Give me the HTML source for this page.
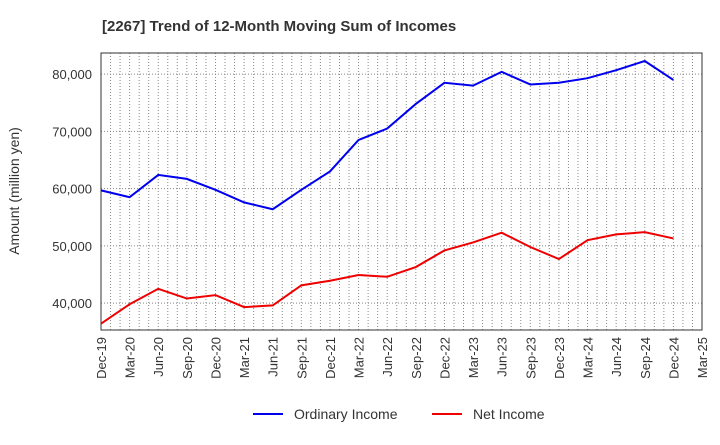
<!DOCTYPE html>
<html><head><meta charset="utf-8"><style>
body{margin:0;background:#fff;width:720px;height:440px;overflow:hidden;font-family:"Liberation Sans",sans-serif}
</style></head><body>
<svg id="c" width="720" height="440" xmlns="http://www.w3.org/2000/svg"></svg>
<script>
const categories=["Dec-19","Mar-20","Jun-20","Sep-20","Dec-20","Mar-21","Jun-21","Sep-21","Dec-21","Mar-22","Jun-22","Sep-22","Dec-22","Mar-23","Jun-23","Sep-23","Dec-23","Mar-24","Jun-24","Sep-24","Dec-24","Mar-25"];
const ordinaryIncome=[59700,58500,62400,61700,59800,57600,56400,59800,63000,68500,70500,74800,78500,78000,80400,78200,78500,79300,80700,82300,79000];
const netIncome=[36400,39800,42500,40800,41400,39300,39600,43100,43900,44900,44600,46300,49200,50600,52300,49800,47700,51000,52000,52400,51300];
const yTicks=[40000,50000,60000,70000,80000];
const yTickLabels=["40,000","50,000","60,000","70,000","80,000"];
const NS="http://www.w3.org/2000/svg",svg=document.getElementById('c');
const L=101,R=702,T=53,B=330,yMin=35300,yMax=83700;
const x=i=>L+i*(R-L)/(categories.length-1);
const y=v=>B-(v-yMin)/(yMax-yMin)*(B-T);
function mk(t,a,p){const e=document.createElementNS(NS,t);for(const k in a)e.setAttribute(k,a[k]);(p||svg).appendChild(e);return e;}
let t=mk('text',{x:102,y:31,'font-size':15,'font-weight':'bold',fill:'#333'});t.textContent="[2267]  Trend of 12-Month Moving Sum of Incomes";


const grid=mk('g',{stroke:'#888','stroke-width':1,'stroke-dasharray':'1,2'});


for(let m=1;m<(categories.length-1)*3;m++){const gx=L+m*(R-L)/((categories.length-1)*3);mk('line',{x1:gx,x2:gx,y1:T,y2:B},grid);}
yTicks.forEach((v,i)=>{mk('line',{x1:L,x2:R,y1:y(v),y2:y(v)},grid);
 const l=mk('text',{x:92,y:y(v)+5,'text-anchor':'end','font-size':13,fill:'#333'});l.textContent=yTickLabels[i];
 
 });
categories.forEach((c,i)=>{const l=mk('text',{transform:`translate(${x(i)+5},337) rotate(-90)`,'text-anchor':'end','font-size':13,fill:'#333'});l.textContent=c;
 
 });
const fr=mk('rect',{x:L,y:T,width:R-L,height:B-T,fill:'none',stroke:'#333','stroke-width':1});


const yt=mk('text',{transform:'translate(19,191) rotate(-90)','text-anchor':'middle','font-size':14,fill:'#333'});yt.textContent="Amount (million yen)";


function line(d,col,name){const p=mk('polyline',{points:d.map((v,i)=>x(i)+','+y(v)).join(' '),fill:'none',stroke:col,'stroke-width':2});
 
 }
line(ordinaryIncome,'#0000ee','ordinary-income-line');
line(netIncome,'#ee0000','net-income-line');
function leg(x0,col,txt,name){const g=mk('g',{});
 
 
 mk('line',{x1:x0,x2:x0+30,y1:414,y2:414,stroke:col,'stroke-width':2},g);
 const tt=mk('text',{x:x0+41,y:419,'font-size':14,fill:'#333'},g);tt.textContent=txt;}
leg(253,'#0000ee','Ordinary Income','legend-ordinary-income');
leg(432,'#ee0000','Net Income','legend-net-income');
</script>
</body></html>
